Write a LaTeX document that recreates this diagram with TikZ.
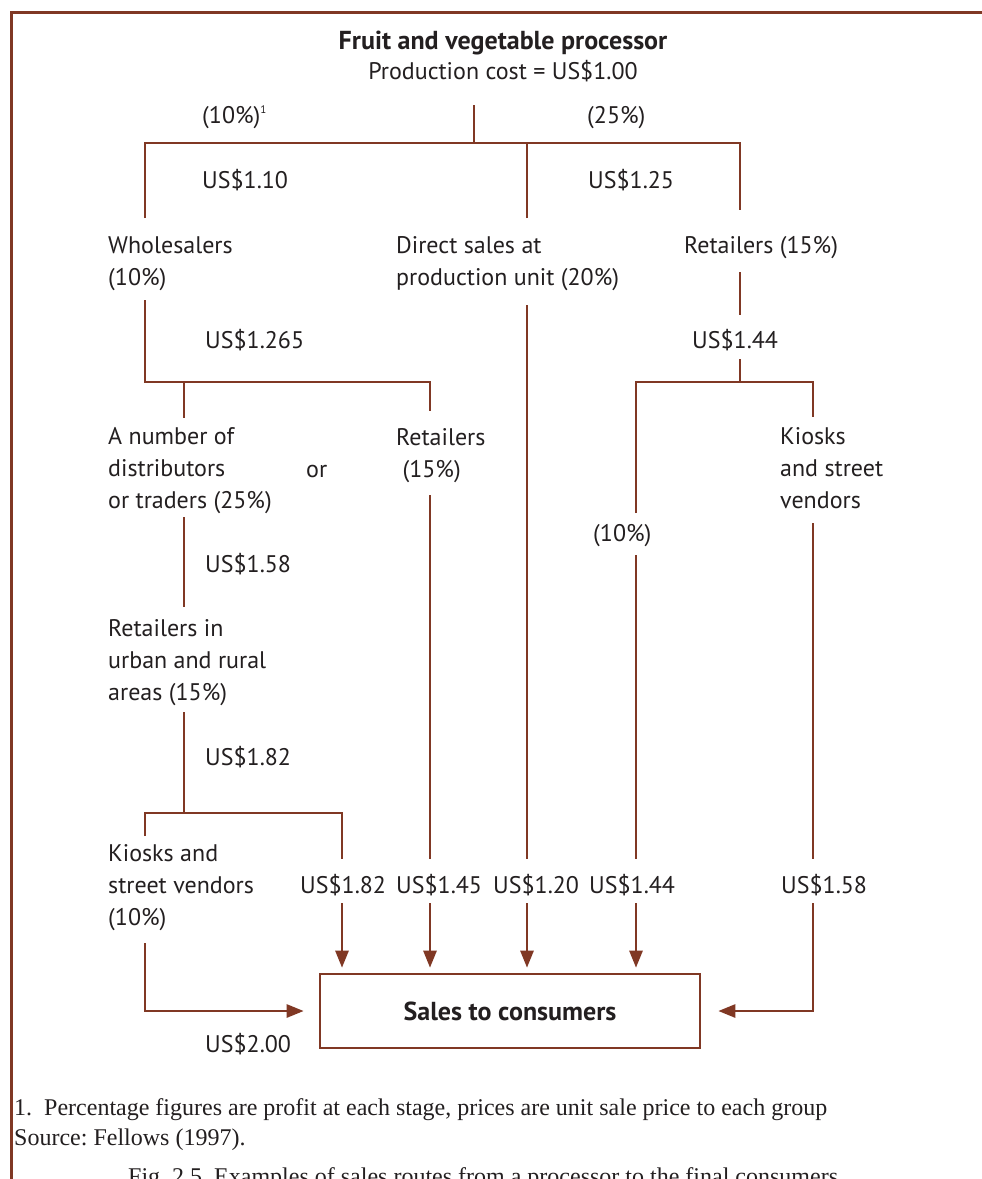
\documentclass[tikz,border=0pt]{standalone}
\usepackage{fontspec}
\setmainfont{PT Sans}
\newfontfamily\notefont{Liberation Serif}
\usetikzlibrary{arrows.meta}
\definecolor{route}{RGB}{128,56,36}
\definecolor{ink}{RGB}{35,31,32}
\frenchspacing
\begin{document}
\begin{tikzpicture}[x=1pt,y=-1pt,
  link/.style={draw=route,line width=2.6pt},
  flow/.style={link,-{Triangle[length=17pt,width=13pt]}},
  % multi-line labels are anchored at the baseline of their last line
  lbl/.style={anchor=base west,inner sep=0pt,text=ink,align=left,
    font=\fontsize{24}{31.7}\selectfont},
  head/.style={anchor=base,inner sep=0pt,text=ink,
    font=\fontsize{24}{30}\selectfont},
  note/.style={anchor=base west,inner sep=0pt,text=ink,
    font=\notefont\fontsize{24}{30}\selectfont},
  salesbox/.style={draw=route,line width=2.6pt,minimum width=380pt,
    minimum height=74pt,inner sep=0pt,text=ink,
    font=\bfseries\fontsize{26}{30}\selectfont}]
\useasboundingbox (0,0) rectangle (982,1179);
\fill[white] (0,0) rectangle (982,1179);

% frame
\coordinate (fr1) at (990,12.7);
\coordinate (fr2) at (11.5,12.7);
\coordinate (fr3) at (11.5,1190);
\draw[route,line width=2.5pt] (fr1) -- (fr2) -- (fr3);

% heading
\node[head,font=\bfseries\fontsize{26}{30}\selectfont] (title) at (503,49) {Fruit and vegetable processor};
\node[head] (cost) at (503,79) {Production cost = US\$1.00};

% labels
\node[lbl] (pA) at (202,123) {(10\%)\textsuperscript{\fontsize{11}{11}\selectfont 1}};
\node[lbl] (pB) at (587,123) {(25\%)};
\node[lbl] (cA) at (202,188) {US\$1.10};
\node[lbl] (cB) at (588,188) {US\$1.25};
\node[lbl] (whole) at (108,285) {Wholesalers\\(10\%)};
\node[lbl] (direct) at (396,285) {Direct sales at\\production unit (20\%)};
\node[lbl] (retA) at (684,253) {Retailers (15\%)};
\node[lbl] (cC) at (205,348) {US\$1.265};
\node[lbl] (cD) at (692,348) {US\$1.44};
\node[lbl] (dist) at (108,508) {A number of\\distributors\\or traders (25\%)};
\node[lbl] (or) at (306,477) {or};
\node[lbl] (retB) at (396,477) {Retailers\\\ (15\%)};
\node[lbl] (kioskA) at (780,508) {Kiosks\\and street\\vendors};
\node[lbl] (pC) at (593,541) {(10\%)};
\node[lbl] (cE) at (205,572) {US\$1.58};
\node[lbl] (retC) at (108,700) {Retailers in\\urban and rural\\areas (15\%)};
\node[lbl] (cF) at (205,765) {US\$1.82};
\node[lbl] (kioskB) at (108,925) {Kiosks and\\street vendors\\(10\%)};
\node[lbl] (fA) at (300,893) {US\$1.82};
\node[lbl] (fB) at (396,893) {US\$1.45};
\node[lbl] (fC) at (493,893) {US\$1.20};
\node[lbl] (fD) at (589,893) {US\$1.44};
\node[lbl] (fE) at (781,893) {US\$1.58};
\node[lbl] (fF) at (205,1052) {US\$2.00};

\node[salesbox] (sales) at (510,1011) {Sales to consumers};

% notes
\node[note] (n1) at (14,1115) {1.\ \ Percentage figures are profit at each stage, prices are unit sale price to each group};
\node[note] (n2) at (14,1145) {Source: Fellows (1997).};
\node[note] (n3) at (128,1184) {Fig. 2.5. Examples of sales routes from a processor to the final consumers};

% line end points
\coordinate (s0) at (474,105);  \coordinate (s1) at (474,143);
\coordinate (w0) at (145,218);  \coordinate (d0) at (527,218);
\coordinate (r0) at (740,210);
\coordinate (w1) at (145,300);  \coordinate (w2) at (145,382);
\coordinate (b1) at (430,411);  \coordinate (t1) at (184,418);
\coordinate (r1) at (740,272);  \coordinate (r2) at (740,315);
\coordinate (r3) at (740,359);  \coordinate (r4) at (740,382);
\coordinate (k1) at (636,513);  \coordinate (k2) at (813,417);
\coordinate (t2) at (184,517);  \coordinate (t3) at (184,607);
\coordinate (t4) at (184,712);  \coordinate (t5) at (184,813);
\coordinate (v1) at (145,836);  \coordinate (v2) at (342,859);
\coordinate (v3) at (145,943);
\coordinate (d1) at (527,305);  \coordinate (d2) at (527,859);
\coordinate (b2) at (430,495);  \coordinate (b3) at (430,859);
\coordinate (k3) at (636,555);  \coordinate (k4) at (636,859);
\coordinate (k5) at (813,523);  \coordinate (k6) at (813,859);
\coordinate (a1) at (342,903);  \coordinate (a2) at (430,903);
\coordinate (a3) at (527,903);  \coordinate (a4) at (636,903);
\coordinate (a5) at (813,903);

% processor to the first stage
\draw[link] (s0) -- (s1);
\draw[link] (w0) -- (w0 |- s1) -- (r0 |- s1) -- (r0);
\draw[link] (d0) -- (d0 |- s1);

% wholesalers
\draw[link] (w1) -- (w2) -- (b1 |- w2) -- (b1);
\draw[link] (t1 |- w2) -- (t1);

% retailers on the right
\draw[link] (r1) -- (r2);
\draw[link] (r3) -- (r4);
\draw[link] (k1) -- (k1 |- r4) -- (k2 |- r4) -- (k2);

% distributors down to kiosks
\draw[link] (t2) -- (t3);
\draw[link] (t4) -- (t5);
\draw[link] (v1) -- (v1 |- t5) -- (v2 |- t5) -- (v2);

% long runs
\draw[link] (d1) -- (d2);
\draw[link] (b2) -- (b3);
\draw[link] (k3) -- (k4);
\draw[link] (k5) -- (k6);

% arrows into the sales box
\foreach \p in {a1,a2,a3,a4}
  \draw[flow,shorten >=5pt] (\p) -- (\p |- sales.north);
\draw[flow,shorten >=15pt] (v3) |- (sales.west);
\draw[flow,shorten >=17pt] (a5) |- (sales.east);
\end{tikzpicture}
\end{document}
